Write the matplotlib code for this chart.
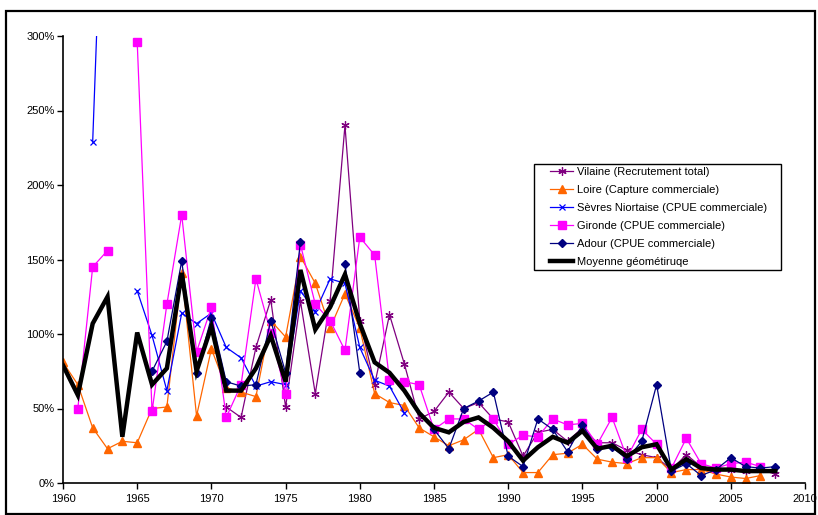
import numpy as np
import matplotlib
matplotlib.use("Agg")
import matplotlib.pyplot as plt
from matplotlib.patches import Rectangle
from matplotlib.ticker import FuncFormatter, MultipleLocator

plt.rcParams['font.family'] = ['Liberation Sans', 'DejaVu Sans']

nan = np.nan
years = list(range(1960, 2009))

vilaine = [nan]*11 + [51, 44, 91, 123, 51, 122, 60, 122, 240, 109,
                      66, 113, 80, 43, 48, 61, 50, 54, 43, 41,
                      18, 34, 36, 28, 37, 27, 27, 22, 19, 17,
                      9, 19, 11, 9, 9, 8, 9, 6]
loire = [81, 66, 37, 23, 28, 27, 50, 51, 141, 45,
         90, 64, 61, 58, 109, 98, 152, 134, 104, 127,
         104, 60, 54, 52, 37, 31, 25, 29, 36, 17,
         19, 7, 7, 19, 20, 26, 16, 14, 13, 17,
         17, 7, 9, 9, 6, 4, 3, 5, nan]
sevres = [nan, nan, 229, 500, nan, 129, 99, 62, 114, 107,
          114, 91, 84, 65, 68, 66, 129, 115, 137, 134,
          91, 69, 65, 47] + [nan]*25
gironde = [nan, 50, 145, 156, nan, 296, 48, 120, 180, 88,
           118, 44, 66, 137, 101, 60, 160, 120, 109, 89,
           165, 153, 69, 68, 66, 36, 43, 43, 36, 43,
           26, 32, 31, 43, 39, 40, 26, 44, 17, 36,
           26, 10, 30, 13, 10, 13, 14, 11, nan]
adour = [nan]*6 + [75, 95, 149, 74,
                   111, 68, 65, 66, 109, 74, 162, nan, nan, 147,
                   74, nan, nan, nan, nan, 36, 23, 50, 55, 61,
                   18, 11, 43, 36, 21, 39, 23, 24, 16, 28,
                   66, 8, 13, 5, 9, 17, 11, 10, 11]
moyenne = [79, 59, 107, 125, 31, 101, 66, 77, 141, 75,
           105, 62, 62, 77, 99, 68, 143, 103, 118, 140,
           107, 81, 74, 62, 47, 37, 34, 41, 44, 37,
           28, 15, 24, 31, 27, 35, 23, 25, 18, 24,
           26, 9, 16, 10, 9, 9, 8, 8, 8]

labels = ["Vilaine (Recrutement total)", "Loire (Capture commerciale)",
          "Sèvres Niortaise (CPUE commerciale)", "Gironde (CPUE commerciale)",
          "Adour (CPUE commerciale)", "Moyenne géométiruqe"]

W, H = 818, 515
fig = plt.figure(figsize=(W/100, H/100), dpi=100)
fig.patch.set_facecolor('white')

ax = fig.add_axes([63/W, 1-483/H, (805-63)/W, (483-36)/H])

lw = 0.9
ax.plot(years, vilaine, color='#800080', lw=lw, marker=(6, 2, 0), ms=6, mew=0.9,
        label=labels[0])
ax.plot(years, loire, color='#FF6600', lw=lw, marker='^', ms=5.5, mec='#FF6600',
        label=labels[1])
ax.plot(years, sevres, color='#0000FF', lw=lw, marker='x', ms=5, mew=0.9,
        label=labels[2])
ax.plot(years, gironde, color='#FF00FF', lw=lw, marker='s', ms=5.5, mec='#FF00FF',
        label=labels[3])
ax.plot(years, adour, color='#000080', lw=lw, marker='D', ms=4.5, mec='#000080',
        label=labels[4])
ax.plot(years, moyenne, color='black', lw=3.2, solid_joinstyle='miter',
        label=labels[5])

ax.set_xlim(1960, 2010)
ax.set_ylim(0, 300)
ax.xaxis.set_major_locator(MultipleLocator(5))
ax.yaxis.set_major_locator(MultipleLocator(50))
ax.yaxis.set_major_formatter(FuncFormatter(lambda v, p: f"{int(round(v))}%"))
for s in ['top', 'right']:
    ax.spines[s].set_visible(False)
for s in ['left', 'bottom']:
    ax.spines[s].set_linewidth(1.2)
ax.tick_params(axis='both', direction='out', length=4, width=1, labelsize=8)
ax.tick_params(axis='x', pad=4)
ax.tick_params(axis='y', pad=2)

leg = ax.legend(loc='upper left', bbox_to_anchor=(550/W, 1-167/H),
                bbox_transform=fig.transFigure, borderaxespad=0,
                fontsize=8, frameon=False, handlelength=2.1,
                labelspacing=0.72, borderpad=0.0, handletextpad=0.3)

fig.patches.append(Rectangle((534/W, 1-270/H), (781-534)/W, (270-164)/H,
                             transform=fig.transFigure, fill=False,
                             edgecolor='black', linewidth=1.0, zorder=5))

fig.patches.append(Rectangle((6/W, 1-514/H), (815-6)/W, (514-11)/H,
                             transform=fig.transFigure, fill=False,
                             edgecolor='black', linewidth=1.6))

fig.savefig('out.png', dpi=100)
